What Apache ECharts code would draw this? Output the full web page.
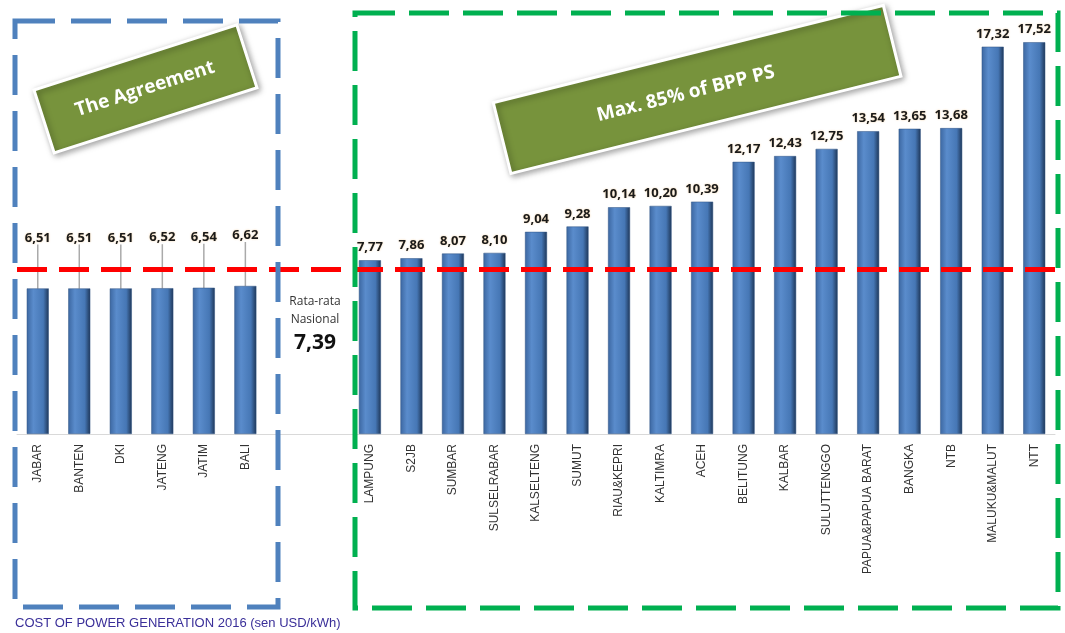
<!DOCTYPE html>
<html lang="en">
<head>
<meta charset="UTF-8">
<title>Cost of Power Generation 2016</title>
<style>html,body{margin:0;padding:0;background:#fff}</style>
</head>
<body>
<div id="main" style="width:1065px;height:633px;"></div>
<script src="https://cdn.jsdelivr.net/npm/echarts@6/dist/echarts.min.js"></script>
<script>
// regions, the two empty slots make the gap between the groups
var regions = ['JABAR', 'BANTEN', 'DKI', 'JATENG', 'JATIM', 'BALI', '', '',
    'LAMPUNG', 'S2JB', 'SUMBAR', 'SULSELRABAR', 'KALSELTENG', 'SUMUT', 'RIAU&KEPRI',
    'KALTIMRA', 'ACEH', 'BELITUNG', 'KALBAR', 'SULUTTENGGO', 'PAPUA&PAPUA BARAT',
    'BANGKA', 'NTB', 'MALUKU&MALUT', 'NTT'];
var cost = [6.51, 6.51, 6.51, 6.52, 6.54, 6.62, null, null,
    7.77, 7.86, 8.07, 8.10, 9.04, 9.28, 10.14,
    10.20, 10.39, 12.17, 12.43, 12.75, 13.54,
    13.65, 13.68, 17.32, 17.52];
var agreementCount = 6;
var nationalAvg = 7.39;

function fmt(v) {
    return v.toFixed(2).replace('.', ',');
}

var barData = [];
for (var i = 0; i < cost.length; i++) {
    if (cost[i] === null) {
        barData.push('-');
    } else if (i < agreementCount) {
        barData.push({value: cost[i], labelLine: {show: true}});
    } else {
        barData.push(cost[i]);
    }
}

var myChart = echarts.init(document.getElementById('main'));

var option = {
    animation: false,
    grid: {left: 17, right: 10, top: 31.5, bottom: 199},
    xAxis: {
        type: 'category',
        data: regions,
        axisLine: {lineStyle: {color: '#d9d9d9', width: 1}},
        axisTick: {show: false},
        axisLabel: {
            interval: 0,
            rotate: 90,
            fontSize: 12,
            color: '#333',
            fontFamily: 'Liberation Sans',
            margin: 10
        }
    },
    yAxis: {type: 'value', min: 0, max: 18, show: false},
    series: [{
        type: 'bar',
        data: barData,
        barWidth: 22,
        itemStyle: {
            color: new echarts.graphic.LinearGradient(0, 0, 1, 0, [
                {offset: 0, color: '#3c67a1'},
                {offset: 0.3, color: '#5a8ccc'},
                {offset: 0.75, color: '#4677b5'},
                {offset: 1, color: '#1e3657'}
            ]),
            borderColor: '#2f5283',
            borderWidth: 0.5
        },
        label: {
            show: true,
            position: 'top',
            distance: 6,
            fontSize: 13,
            fontWeight: 'bold',
            fontFamily: 'Open Sans',
            color: '#1a1a1a',
            textShadowColor: 'rgba(235,170,80,0.55)',
            textShadowBlur: 2,
            formatter: function (p) { return fmt(p.value); }
        },
        labelLine: {lineStyle: {color: '#aaaaaa', width: 1.5}},
        labelLayout: function (p) {
            if (p.dataIndex < agreementCount) {
                return {dy: -38};
            }
        },
        markLine: {
            silent: true,
            symbol: 'none',
            label: {show: false},
            lineStyle: {color: '#ff0000', type: [30, 12], width: 5},
            data: [{yAxis: nationalAvg}]
        }
    }],
    graphic: [
        // dashed group boxes
        {
            type: 'rect', z: 10,
            shape: {x: 15, y: 21, width: 263, height: 586},
            style: {fill: 'none', stroke: '#4f81bd', lineWidth: 5, lineDash: [40, 16]}
        },
        {
            type: 'rect', z: 10,
            shape: {x: 355, y: 13, width: 703, height: 595},
            style: {fill: 'none', stroke: '#00b050', lineWidth: 5, lineDash: [40, 14]}
        },
        // green tags
        {
            type: 'group', x: 145, y: 89, rotation: 17.8 * Math.PI / 180, z: 20,
            children: [
                {
                    type: 'rect',
                    shape: {x: -106, y: -33, width: 213, height: 66},
                    style: {fill: '#77933c', stroke: '#fff', lineWidth: 3,
                        shadowBlur: 6, shadowOffsetX: 2, shadowOffsetY: 2, shadowColor: 'rgba(0,0,0,0.35)'}
                },
                {
                    type: 'text', x: 0, y: 0,
                    style: {text: 'The Agreement', fill: '#fff', font: 'bold 19px "Open Sans"',
                        align: 'center', verticalAlign: 'middle'}
                }
            ]
        },
        {
            type: 'group', x: 697, y: 89, rotation: 14 * Math.PI / 180, z: 20,
            children: [
                {
                    type: 'rect',
                    shape: {x: -201, y: -36, width: 402, height: 73},
                    style: {fill: '#77933c', stroke: '#fff', lineWidth: 3,
                        shadowBlur: 6, shadowOffsetX: 2, shadowOffsetY: 2, shadowColor: 'rgba(0,0,0,0.35)'}
                },
                {
                    type: 'text', x: -12, y: 2,
                    style: {text: 'Max. 85% of BPP PS', fill: '#fff', font: 'bold 19px "Open Sans"',
                        align: 'center', verticalAlign: 'middle'}
                }
            ]
        },
        // national average note
        {
            type: 'text', x: 315, y: 302, z: 20,
            style: {text: 'Rata-rata', fill: '#333', font: '12px "Open Sans"', align: 'center', verticalAlign: 'middle'}
        },
        {
            type: 'text', x: 315, y: 320, z: 20,
            style: {text: 'Nasional', fill: '#333', font: '12px "Open Sans"', align: 'center', verticalAlign: 'middle'}
        },
        {
            type: 'text', x: 315, y: 343, z: 20,
            style: {text: fmt(nationalAvg), fill: '#111', font: 'bold 21px "Open Sans"', align: 'center', verticalAlign: 'middle'}
        },
        // caption
        {
            type: 'text', x: 15, y: 623, z: 20,
            style: {text: 'COST OF POWER GENERATION 2016 (sen USD/kWh)', fill: '#3a2f99',
                font: '13px "Liberation Sans"', verticalAlign: 'middle'}
        }
    ]
};

myChart.setOption(option);
</script>
</body>
</html>
